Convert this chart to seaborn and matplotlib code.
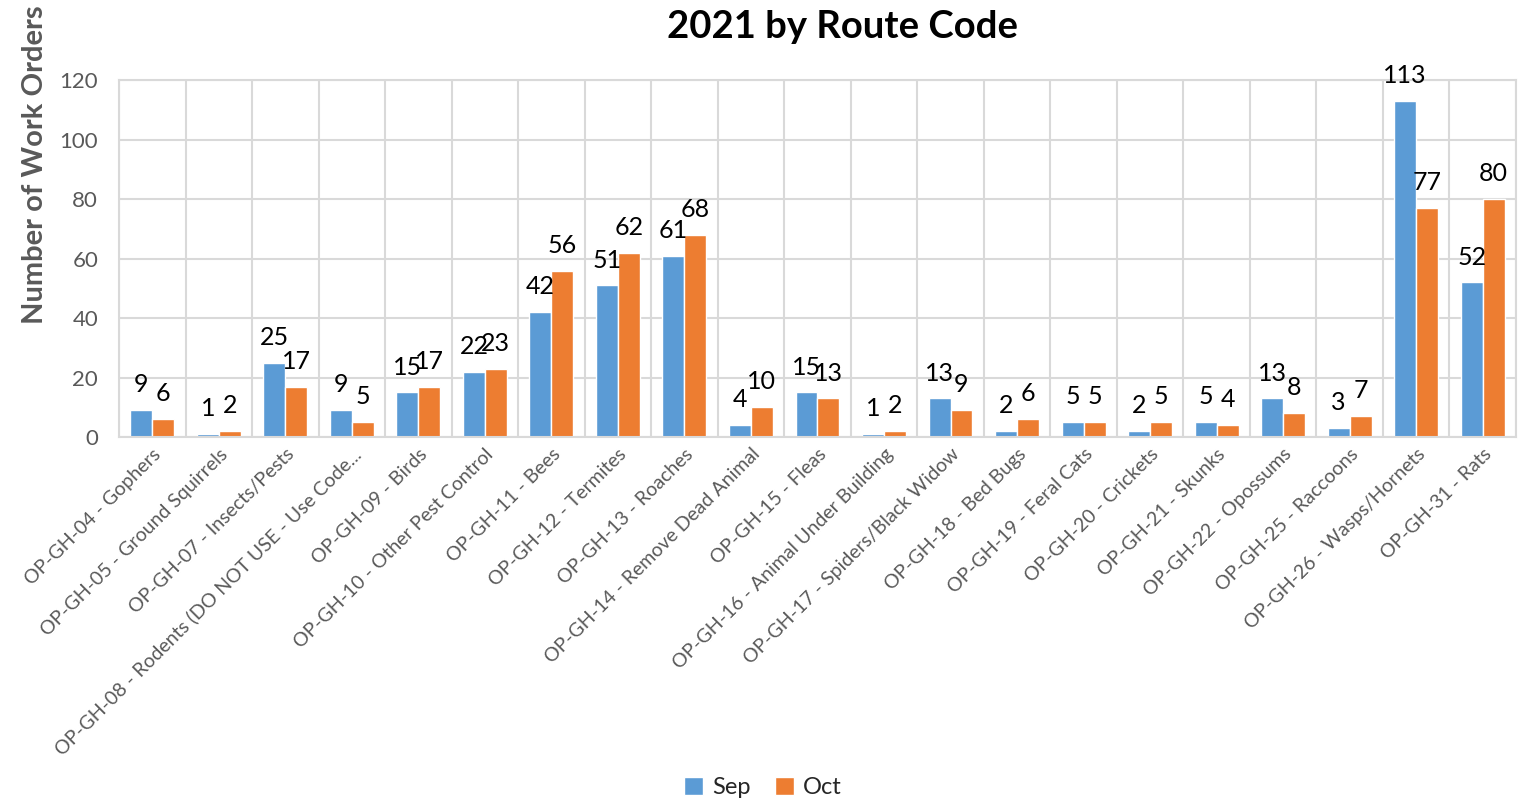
import matplotlib
matplotlib.use("Agg")
import matplotlib.pyplot as plt
import numpy as np
import pandas as pd
import seaborn as sns

ROUTES = [
    "OP-GH-04 - Gophers",
    "OP-GH-05 - Ground Squirrels",
    "OP-GH-07 - Insects/Pests",
    "OP-GH-08 - Rodents (DO NOT USE - Use Code...",
    "OP-GH-09 - Birds",
    "OP-GH-10 - Other Pest Control",
    "OP-GH-11 - Bees",
    "OP-GH-12 - Termites",
    "OP-GH-13 - Roaches",
    "OP-GH-14 - Remove Dead Animal",
    "OP-GH-15 - Fleas",
    "OP-GH-16 - Animal Under Building",
    "OP-GH-17 - Spiders/Black Widow",
    "OP-GH-18 - Bed Bugs",
    "OP-GH-19 - Feral Cats",
    "OP-GH-20 - Crickets",
    "OP-GH-21 - Skunks",
    "OP-GH-22 - Opossums",
    "OP-GH-25 - Raccoons",
    "OP-GH-26 - Wasps/Hornets",
    "OP-GH-31 - Rats",
]
SEP = [9, 1, 25, 9, 15, 22, 42, 51, 61, 4, 15, 1, 13, 2, 5, 2, 5, 13, 3, 113, 52]
OCT = [6, 2, 17, 5, 17, 23, 56, 62, 68, 10, 13, 2, 9, 6, 5, 5, 4, 8, 7, 77, 80]
MONTHS = ["Sep", "Oct"]
COLORS = {"Sep": "#5B9BD5", "Oct": "#ED7D31"}

sns.set_style("white")
plt.rcParams["font.family"] = ["Lato", "DejaVu Sans"]

df = pd.DataFrame({
    "route": ROUTES * 2,
    "month": ["Sep"] * len(SEP) + ["Oct"] * len(OCT),
    "orders": SEP + OCT,
})

fig = plt.figure(figsize=(15.26, 8.02), dpi=100)
ax = fig.add_axes([0.078, 0.455, 0.9154, 0.445])

sns.barplot(data=df, x="route", y="orders", hue="month", hue_order=MONTHS,
            palette=COLORS, width=0.66, gap=0, saturation=1, ax=ax, legend=True)

for container in ax.containers:
    ax.bar_label(container, fmt="%d", padding=10, fontsize=18, color="black")

ax.set_ylim(0, 120)
ax.set_yticks(np.arange(0, 121, 20))
ax.set_xlim(-0.5, len(ROUTES) - 0.5)
ax.set_xticks(np.arange(-0.5, len(ROUTES)), minor=True)
ax.grid(axis="y", color="#D9D9D9", linewidth=1.5)
ax.grid(axis="x", which="minor", color="#D9D9D9", linewidth=1.5)
ax.set_axisbelow(True)
for spine in ax.spines.values():
    spine.set_color("#D9D9D9")
    spine.set_linewidth(1.5)

ax.tick_params(axis="y", labelsize=16, labelcolor="#595959", length=0, pad=15)
ax.tick_params(axis="x", which="both", length=0, labelsize=14, labelcolor="#595959", pad=6)
ax.set_xticks(np.arange(len(ROUTES)))
ax.set_xticklabels(ROUTES, rotation=45, ha="right", rotation_mode="anchor")
ax.set_xlabel("")
ax.set_ylabel("")

fig.text(0.552, 0.966, "2021 by Route Code", ha="center", va="center",
         fontsize=27.5, fontweight="bold", color="black")
fig.text(0.023, 0.795, "Number of Work Orders", rotation=90, ha="center", va="center",
         fontsize=21, fontweight="bold", color="#595959")

ax.legend(loc="center", bbox_to_anchor=(0.5, 0.018), bbox_transform=fig.transFigure,
          ncol=2, frameon=False, fontsize=17, handlelength=0.8, handleheight=0.8,
          columnspacing=1.0, handletextpad=0.4)

fig.savefig("out.png", dpi=100)
